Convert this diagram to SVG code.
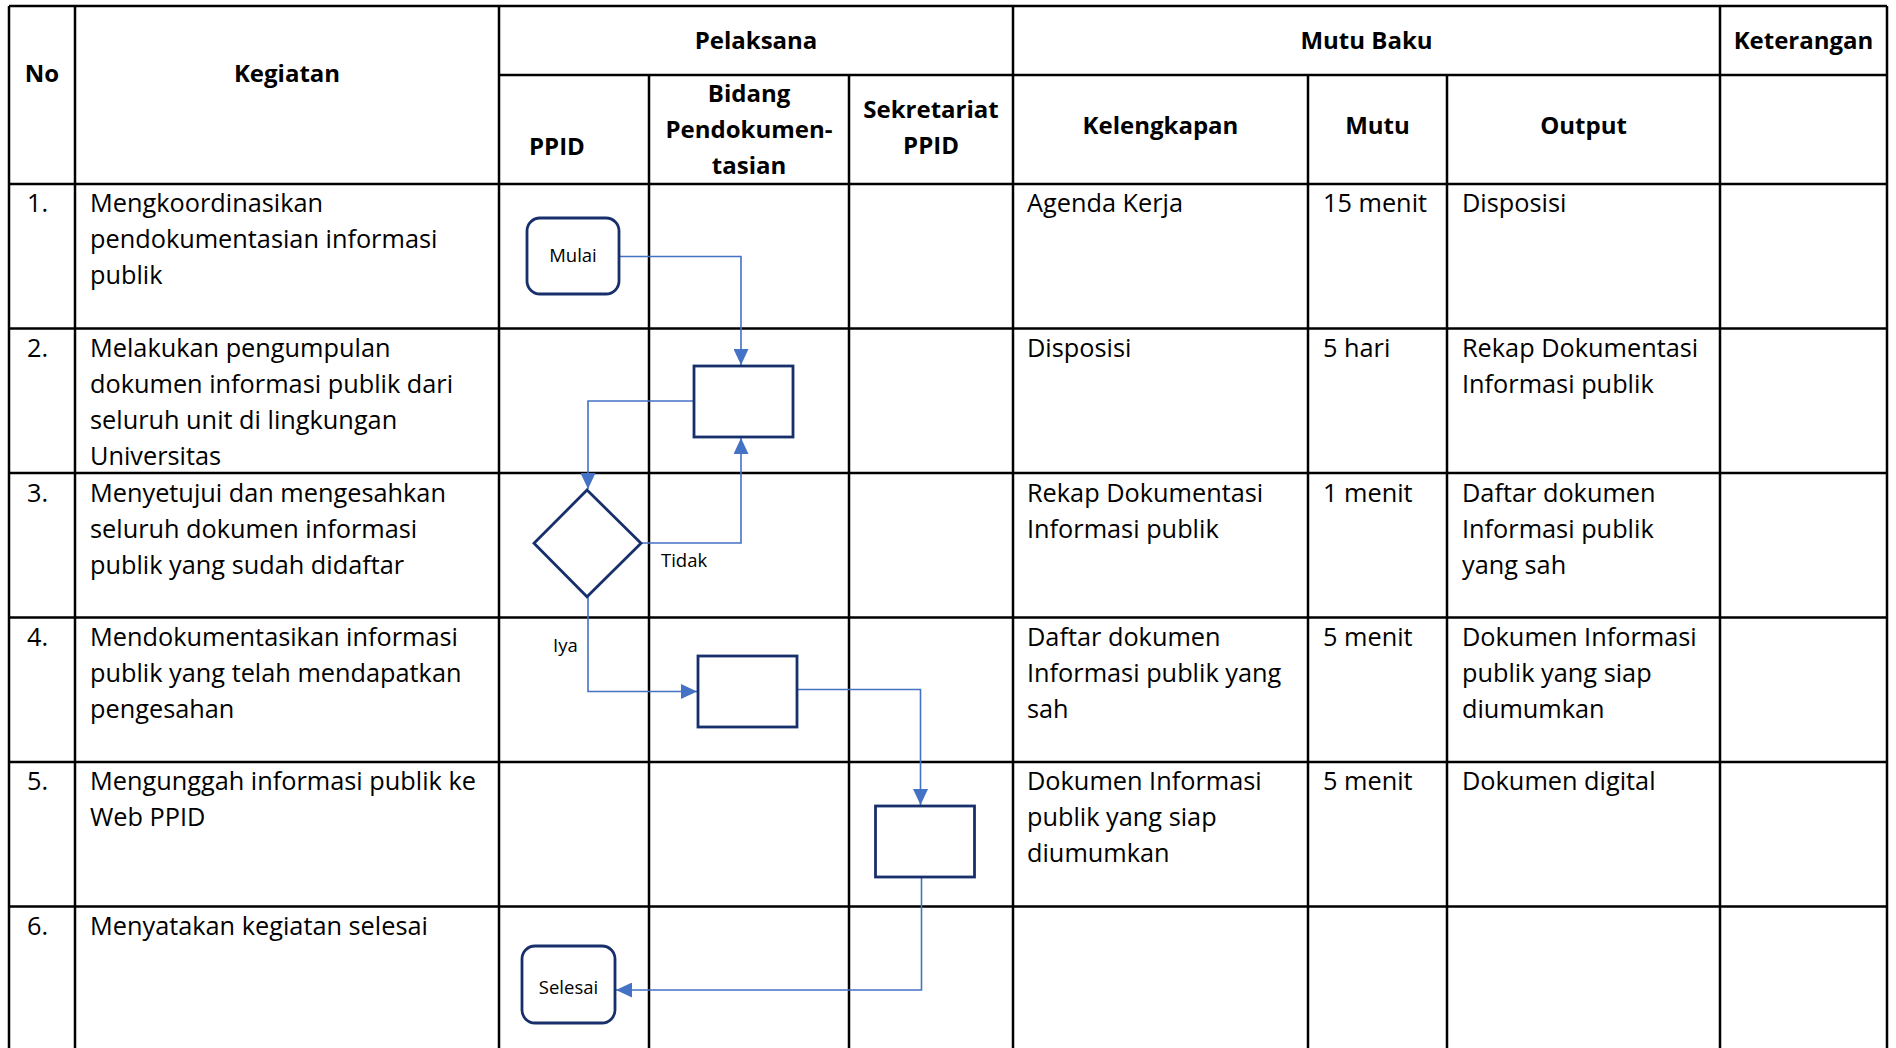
<svg xmlns="http://www.w3.org/2000/svg" width="1896" height="1048" viewBox="0 0 1896 1048">
<style>
.bg{fill:#fff}
.g line{stroke:#000;stroke-width:2.5}
.t{font-family:"Open Sans","Noto Sans","Liberation Sans",sans-serif;font-size:25.3px;fill:#000}
.h{font-family:"Open Sans","Noto Sans","Liberation Sans",sans-serif;font-size:24px;font-weight:bold;fill:#000;text-anchor:middle}
.n{fill:#fff;stroke:#172F6B;stroke-width:2.8}
.c path{fill:none;stroke:#4472C4;stroke-width:1.6}
.s{font-family:"Open Sans","Noto Sans","Liberation Sans",sans-serif;font-size:18.5px;fill:#000}
</style>
<defs>
<marker id="ah" markerUnits="userSpaceOnUse" markerWidth="16" markerHeight="15" refX="16" refY="7.5" orient="auto">
<path d="M0,0 L16,7.5 L0,15 z" fill="#4472C4"/>
</marker>
</defs>
<rect class="bg" x="0" y="0" width="1896" height="1048"/>
<g id="table" class="g">
<line x1="9" y1="6" x2="1887" y2="6"/>
<line x1="499" y1="75" x2="1887" y2="75"/>
<line x1="9" y1="184" x2="1887" y2="184"/>
<line x1="9" y1="328.5" x2="1887" y2="328.5"/>
<line x1="9" y1="473" x2="1887" y2="473"/>
<line x1="9" y1="617.5" x2="1887" y2="617.5"/>
<line x1="9" y1="762" x2="1887" y2="762"/>
<line x1="9" y1="906.5" x2="1887" y2="906.5"/>
<line x1="9" y1="6" x2="9" y2="1048"/>
<line x1="75" y1="6" x2="75" y2="1048"/>
<line x1="499" y1="6" x2="499" y2="1048"/>
<line x1="649" y1="75" x2="649" y2="1048"/>
<line x1="849" y1="75" x2="849" y2="1048"/>
<line x1="1013" y1="6" x2="1013" y2="1048"/>
<line x1="1308" y1="75" x2="1308" y2="1048"/>
<line x1="1447" y1="75" x2="1447" y2="1048"/>
<line x1="1720" y1="6" x2="1720" y2="1048"/>
<line x1="1887" y1="6" x2="1887" y2="1048"/>
</g>
<g id="headers">
<text class="h" x="42" y="82">No</text>
<text class="h" x="287" y="82">Kegiatan</text>
<text class="h" x="756" y="49">Pelaksana</text>
<text class="h" x="1366.5" y="49">Mutu Baku</text>
<text class="h" x="1803.5" y="49">Keterangan</text>
<text class="h" x="529" y="155" style="text-anchor:start">PPID</text>
<text class="h" x="749" y="102">Bidang</text>
<text class="h" x="749" y="138">Pendokumen-</text>
<text class="h" x="749" y="173.5">tasian</text>
<text class="h" x="931" y="118">Sekretariat</text>
<text class="h" x="931" y="154">PPID</text>
<text class="h" x="1160.5" y="134">Kelengkapan</text>
<text class="h" x="1377.5" y="134">Mutu</text>
<text class="h" x="1583.5" y="134">Output</text>
</g>
<g id="rows">
<text class="t" x="27" y="212">1.</text>
<text class="t" x="90" y="212">Mengkoordinasikan</text>
<text class="t" x="90" y="248">pendokumentasian informasi</text>
<text class="t" x="90" y="284">publik</text>
<text class="t" x="1027" y="212">Agenda Kerja</text>
<text class="t" x="1323" y="212">15 menit</text>
<text class="t" x="1462" y="212">Disposisi</text>

<text class="t" x="27" y="357">2.</text>
<text class="t" x="90" y="357">Melakukan pengumpulan</text>
<text class="t" x="90" y="393">dokumen informasi publik dari</text>
<text class="t" x="90" y="429">seluruh unit di lingkungan</text>
<text class="t" x="90" y="465">Universitas</text>
<text class="t" x="1027" y="357">Disposisi</text>
<text class="t" x="1323" y="357">5 hari</text>
<text class="t" x="1462" y="357">Rekap Dokumentasi</text>
<text class="t" x="1462" y="393">Informasi publik</text>

<text class="t" x="27" y="502">3.</text>
<text class="t" x="90" y="502">Menyetujui dan mengesahkan</text>
<text class="t" x="90" y="538">seluruh dokumen informasi</text>
<text class="t" x="90" y="574">publik yang sudah didaftar</text>
<text class="t" x="1027" y="502">Rekap Dokumentasi</text>
<text class="t" x="1027" y="538">Informasi publik</text>
<text class="t" x="1323" y="502">1 menit</text>
<text class="t" x="1462" y="502">Daftar dokumen</text>
<text class="t" x="1462" y="538">Informasi publik</text>
<text class="t" x="1462" y="574">yang sah</text>

<text class="t" x="27" y="646">4.</text>
<text class="t" x="90" y="646">Mendokumentasikan informasi</text>
<text class="t" x="90" y="682">publik yang telah mendapatkan</text>
<text class="t" x="90" y="718">pengesahan</text>
<text class="t" x="1027" y="646">Daftar dokumen</text>
<text class="t" x="1027" y="682">Informasi publik yang</text>
<text class="t" x="1027" y="718">sah</text>
<text class="t" x="1323" y="646">5 menit</text>
<text class="t" x="1462" y="646">Dokumen Informasi</text>
<text class="t" x="1462" y="682">publik yang siap</text>
<text class="t" x="1462" y="718">diumumkan</text>

<text class="t" x="27" y="790">5.</text>
<text class="t" x="90" y="790">Mengunggah informasi publik ke</text>
<text class="t" x="90" y="826">Web PPID</text>
<text class="t" x="1027" y="790">Dokumen Informasi</text>
<text class="t" x="1027" y="826">publik yang siap</text>
<text class="t" x="1027" y="862">diumumkan</text>
<text class="t" x="1323" y="790">5 menit</text>
<text class="t" x="1462" y="790">Dokumen digital</text>

<text class="t" x="27" y="935">6.</text>
<text class="t" x="90" y="935">Menyatakan kegiatan selesai</text>
</g>
<g id="connectors" class="c">
<path d="M619,256.5 H741 V365" marker-end="url(#ah)"/>
<path d="M694,401 H588 V489" marker-end="url(#ah)"/>
<path d="M641,543 H741 V438" marker-end="url(#ah)"/>
<path d="M588,597 V691.5 H697" marker-end="url(#ah)"/>
<path d="M797,689.5 H920.5 V805" marker-end="url(#ah)"/>
<path d="M921.5,877 V990 H616" marker-end="url(#ah)"/>
</g>
<g id="node-mulai">
<rect class="n" x="527" y="218" width="92" height="76" rx="13"/>
<text class="s" x="573" y="262" text-anchor="middle">Mulai</text>
</g>
<g id="node-kumpul">
<rect class="n" x="694" y="366" width="99" height="71"/>
</g>
<g id="node-setuju">
<polygon class="n" points="587,490 641,543.3 587,596.7 534,543.3"/>
</g>
<g id="node-dokumentasi">
<rect class="n" x="698" y="656" width="99" height="71"/>
</g>
<g id="node-unggah">
<rect class="n" x="875.5" y="806" width="99" height="71"/>
</g>
<g id="node-selesai">
<rect class="n" x="522" y="946" width="93" height="77" rx="13"/>
<text class="s" x="568.5" y="994" text-anchor="middle">Selesai</text>
</g>
<g id="labels">
<text class="s" x="661" y="567">Tidak</text>
<text class="s" x="553" y="652">Iya</text>
</g>
</svg>
